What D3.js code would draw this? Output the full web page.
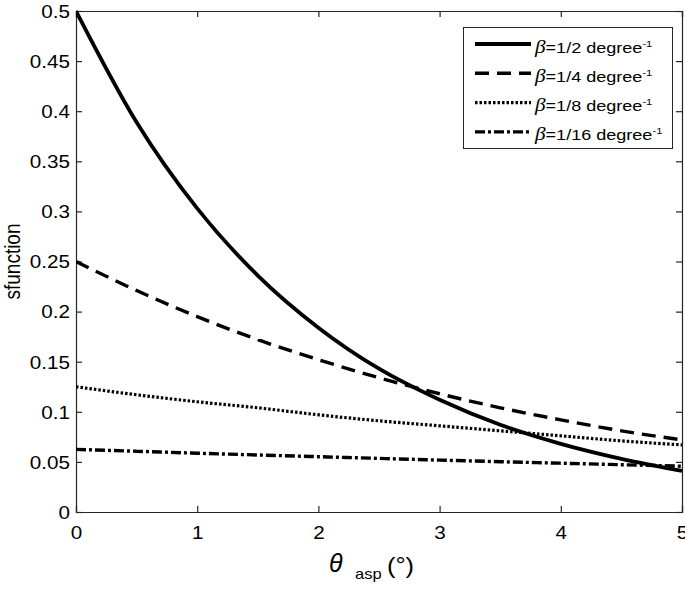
<!DOCTYPE html>
<html>
<head>
<meta charset="utf-8">
<script src="https://cdn.jsdelivr.net/npm/d3@7"></script>
<style>
  body { margin: 0; background: #fff; }
  text { font-family: "Liberation Sans", Arial, sans-serif; fill: #000; }
</style>
</head>
<body>
<div id="chart"></div>
<script>
// values
const xs = [0, 0.5, 1, 1.5, 2, 2.5, 3, 3.5, 4, 4.5, 5];
const beta2 = [0.5, 0.389, 0.303, 0.236, 0.184, 0.143, 0.112, 0.087, 0.068, 0.053, 0.041];
const beta4 = [0.25, 0.221, 0.195, 0.172, 0.152, 0.134, 0.118, 0.104, 0.092, 0.081, 0.072];
const beta8 = [0.125, 0.117, 0.110, 0.104, 0.097, 0.091, 0.086, 0.081, 0.076, 0.071, 0.067];
const beta16 = [0.0625, 0.0606, 0.0587, 0.0569, 0.0552, 0.0535, 0.0518, 0.0502, 0.0487, 0.0472, 0.0457];
const seriesNames = ["1/2", "1/4", "1/8", "1/16"];
const xTicks = [0, 1, 2, 3, 4, 5];
const yTicks = [0, 0.05, 0.1, 0.15, 0.2, 0.25, 0.3, 0.35, 0.4, 0.45, 0.5];

const width = 685, height = 591;
const margin = {top: 11, right: 3, bottom: 79, left: 76};
const sx = 1.18; // the picture's text is a bit wider than tall

const svg = d3.select("#chart").append("svg")
    .attr("width", width)
    .attr("height", height);

const x = d3.scaleLinear().domain([0, 5]).range([margin.left, width - margin.right]);
const y = d3.scaleLinear().domain([0, 0.5]).range([height - margin.bottom, margin.top]);

const axisColor = "#262626";

// axes with inward ticks, mirrored on top/right
const gx = svg.append("g").attr("transform", `translate(0,${y(0)})`)
    .call(d3.axisBottom(x).tickValues(xTicks).tickSize(-6).tickPadding(0).tickFormat(d3.format("d")));
const gxTop = svg.append("g").attr("transform", `translate(0,${y(0.5)})`)
    .call(d3.axisTop(x).tickValues(xTicks).tickSize(-6).tickFormat(""));
const gy = svg.append("g").attr("transform", `translate(${x(0)},0)`)
    .call(d3.axisLeft(y).tickValues(yTicks).tickSize(-6).tickFormat(d => d === 0 ? "0" : String(+d.toFixed(2))));
const gyRight = svg.append("g").attr("transform", `translate(${x(5)},0)`)
    .call(d3.axisRight(y).tickValues(yTicks).tickSize(-6).tickFormat(""));

[gx, gxTop, gy, gyRight].forEach(g => {
  g.select(".domain").attr("stroke", axisColor).attr("stroke-width", 1.2);
  g.selectAll(".tick line").attr("stroke", axisColor).attr("stroke-width", 1.2);
  g.selectAll(".tick text").attr("fill", "#000").style("font-size", "17.5px")
    .style("font-family", "'Liberation Sans', Arial, sans-serif");
});
gx.selectAll(".tick text").attr("dy", null).attr("y", 27).attr("transform", `scale(${sx},1)`);
gy.selectAll(".tick text").attr("x", -6 / sx).attr("dy", "0.36em").attr("transform", `scale(${sx},1)`);

const series = [
  {name: seriesNames[0], values: beta2, dash: null, w: 3.8},
  {name: seriesNames[1], values: beta4, dash: "14,8", w: 3.4},
  {name: seriesNames[2], values: beta8, dash: "2.5,2", w: 3.2},
  {name: seriesNames[3], values: beta16, dash: "10,3,3,3", w: 3.4}
];

const line = d3.line()
    .x((d, i) => x(xs[i]))
    .y(d => y(d))
    .curve(d3.curveMonotoneX);

svg.append("clipPath").attr("id", "clip").append("rect")
    .attr("x", x(0)).attr("y", y(0.5) - 3)
    .attr("width", x(5) - x(0) + 2).attr("height", y(0) - y(0.5) + 3);

svg.append("g").attr("clip-path", "url(#clip)")
  .selectAll("path.series")
  .data(series)
  .join("path")
    .attr("class", "series")
    .attr("d", d => line(d.values))
    .attr("fill", "none")
    .attr("stroke", "#000")
    .attr("stroke-width", d => d.w)
    .attr("stroke-dasharray", d => d.dash);

// legend
const legend = svg.append("g");
legend.append("rect")
    .attr("x", 463.5).attr("y", 27.5)
    .attr("width", 209).attr("height", 121)
    .attr("fill", "#fff").attr("stroke", axisColor).attr("stroke-width", 1);

const rows = legend.selectAll("g.row").data(series).join("g")
    .attr("class", "row")
    .attr("transform", (d, i) => `translate(0,${44 + i * 29.3})`);

rows.append("line")
    .attr("x1", 475).attr("x2", 531).attr("y1", 0).attr("y2", 0)
    .attr("stroke", "#000")
    .attr("stroke-width", d => d.w)
    .attr("stroke-dasharray", d => d.dash);

const lt = rows.append("text")
    .attr("x", 535 / sx).attr("y", 8.5)
    .attr("transform", `scale(${sx},1)`)
    .style("font-size", "15.3px");
lt.append("tspan").attr("font-style", "italic").attr("font-family", "'Liberation Serif', serif")
    .style("font-size", "18px").text("β");
lt.append("tspan").text(d => "=" + d.name + " degree");
lt.append("tspan").attr("dy", -6).style("font-size", "9.5px").text("-1");

// axis titles
svg.append("text")
    .attr("transform", `translate(20,${(y(0) + y(0.5)) / 2}) rotate(-90) scale(1,${sx})`)
    .attr("text-anchor", "middle")
    .style("font-size", "19px")
    .text("sfunction");

svg.append("text")
    .attr("x", 329).attr("y", 572)
    .attr("font-style", "italic").attr("font-family", "'Liberation Serif', serif")
    .style("font-size", "25px").text("θ");
svg.append("text")
    .attr("x", 355 / sx).attr("y", 579)
    .attr("transform", `scale(${sx},1)`)
    .style("font-size", "14px").text("asp");
svg.append("text")
    .attr("x", 387 / sx).attr("y", 573)
    .attr("transform", `scale(${sx},1)`)
    .style("font-size", "21.5px").text("(°)");
</script>
</body>
</html>
